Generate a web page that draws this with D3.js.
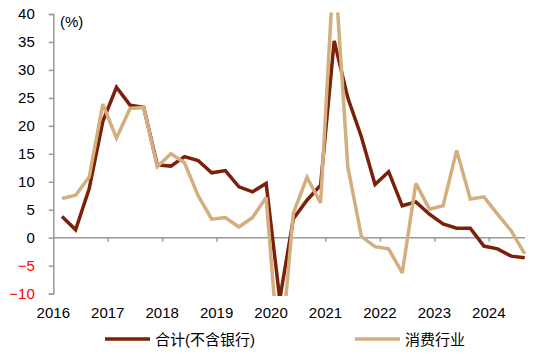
<!DOCTYPE html>
<html>
<head>
<meta charset="utf-8">
<script src="https://cdn.jsdelivr.net/npm/d3@7/dist/d3.min.js"></script>
<style>
  html, body { margin: 0; padding: 0; background: #fff; }
  svg { display: block; }
  text { font-family: "Liberation Sans", Arial, "Noto Sans CJK SC", sans-serif; }
</style>
</head>
<body>
<script>
// ---- data ----
const years = [2016, 2017, 2018, 2019, 2020, 2021, 2022, 2023, 2024];
const yTicks = [-10, -5, 0, 5, 10, 15, 20, 25, 30, 35, 40];
const quarters = [
  "16Q1","16Q2","16Q3","16Q4","17Q1","17Q2","17Q3","17Q4",
  "18Q1","18Q2","18Q3","18Q4","19Q1","19Q2","19Q3","19Q4",
  "20Q1","20Q2","20Q3","20Q4","21Q1","21Q2","21Q3","21Q4",
  "22Q1","22Q2","22Q3","22Q4","23Q1","23Q2","23Q3","23Q4",
  "24Q1","24Q2","24Q3"
];
const totalExBank = [3.8, 1.4, 8.8, 20.8, 26.9, 23.7, 23.3, 13.0, 12.8, 14.5, 13.8, 11.6, 12.0, 9.1, 8.2, 9.7,
  -11, 3.4, 6.7, 9.4, 35.2, 25.0, 18.0, 9.5, 11.8, 5.7, 6.4, 4.2, 2.45, 1.7, 1.7, -1.5, -2.0, -3.3, -3.6];
const consumer = [7.0, 7.6, 10.9, 23.9, 17.8, 23.1, 23.3, 12.7, 15.0, 13.4, 7.5, 3.3, 3.6, 1.9, 3.6, 7.2,
  -23, 4.4, 10.8, 6.2, 50, 12.7, 0.2, -1.6, -2.0, -6.3, 9.7, 5.1, 5.7, 15.6, 6.9, 7.3, 4.2, 1.25, -2.9];
const seriesNames = ["合计(不含银行)", "消费行业"];
const colors = ["#7B2009", "#D3AE7E"];

// ---- layout ----
const W = 550, H = 355;
const svg = d3.select("body").append("svg").attr("width", W).attr("height", H);

const x = d3.scaleLinear().domain([2016, 2024.665]).range([53.3, 525]);
const y = d3.scaleLinear().domain([-10, 40]).range([293.6, 14]);
const qx = i => x(2016.16 + i * 0.25);

// clip
svg.append("defs").append("clipPath").attr("id", "clip")
  .append("rect").attr("x", 0).attr("y", y(40) - 1.5).attr("width", W).attr("height", y(-10) - y(40) + 4);

// y axis
const yAxis = svg.append("g").attr("transform", `translate(${x(2016)},0)`)
  .call(d3.axisLeft(y).tickValues(yTicks).tickSize(4.5).tickPadding(14).tickFormat(d3.format("d")));
yAxis.select(".domain").attr("stroke", "#9a9a9a").attr("stroke-width", 1.5);
yAxis.selectAll(".tick line").attr("stroke", "#9a9a9a").attr("stroke-width", 1.5);
yAxis.selectAll(".tick text")
  .attr("font-size", 15)
  .attr("font-family", "'Liberation Sans', Arial, sans-serif")
  .attr("fill", d => d < 0 ? "#FF0000" : "#000");

// x axis at zero
const xAxis = svg.append("g").attr("transform", `translate(0,${y(0)})`)
  .call(d3.axisBottom(x).tickValues(years.slice(1)).tickSize(4).tickFormat(""));
xAxis.select(".domain").attr("stroke", "#9a9a9a").attr("stroke-width", 1.5).attr("d", `M${x(2016)},0H${x(2024.665)}`);
xAxis.selectAll(".tick line").attr("stroke", "#9a9a9a").attr("stroke-width", 1.5);

// x labels at bottom
svg.append("g").selectAll("text").data(years).join("text")
  .attr("x", d => x(d)).attr("y", 318)
  .attr("text-anchor", "middle").attr("font-size", 15).attr("fill", "#000")
  .text(d => d);

// unit
svg.append("text").attr("x", 60).attr("y", 27).attr("font-size", 15).attr("fill", "#000").text("(%)");

// lines
const line = d3.line().x((d, i) => qx(i)).y(d => y(d));
const plot = svg.append("g").attr("clip-path", "url(#clip)");
[totalExBank, consumer].forEach((s, k) => {
  plot.append("path").datum(s)
    .attr("d", line)
    .attr("fill", "none")
    .attr("stroke", colors[k])
    .attr("stroke-width", 3.5)
    .attr("stroke-linejoin", "miter")
    .attr("stroke-miterlimit", 3);
});

// legend
const legX = [105, 355];
seriesNames.forEach((n, k) => {
  svg.append("line").attr("x1", legX[k]).attr("x2", legX[k] + 45)
    .attr("y1", 339).attr("y2", 339).attr("stroke", colors[k]).attr("stroke-width", 3.5);
  svg.append("text").attr("x", legX[k] + 50).attr("y", 344.5)
    .attr("font-size", 15).attr("fill", "#000")
    .attr("font-family", "'Liberation Sans', Arial, 'Noto Sans CJK SC', sans-serif")
    .text(n);
});
</script>
</body>
</html>
